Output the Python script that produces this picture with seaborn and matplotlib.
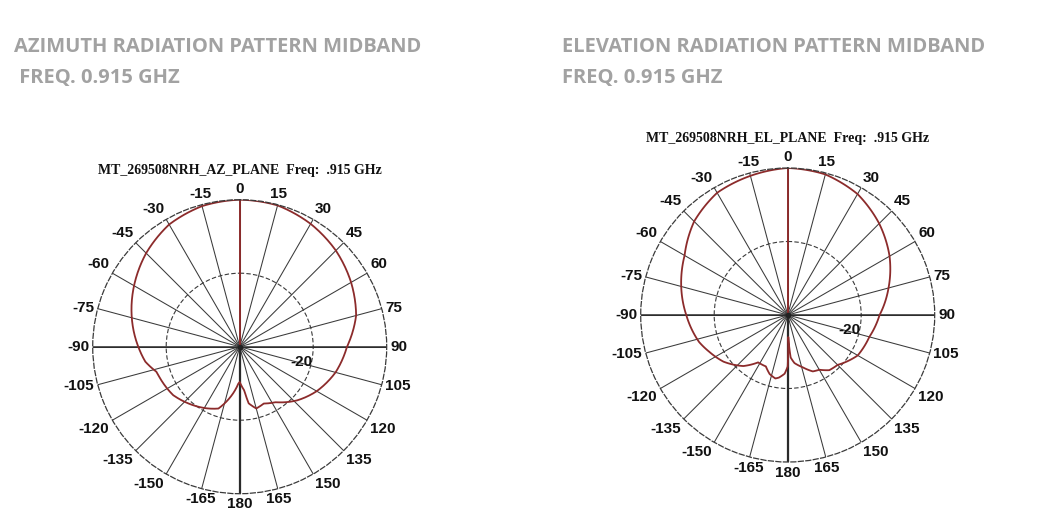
import numpy as np
import matplotlib
matplotlib.use("Agg")
import matplotlib.pyplot as plt
import seaborn as sns

# azimuth pattern, angle (deg, clockwise from 0) and gain (dB, 0 = max)
az_angles = [0, 15, 30, 45, 60, 75, 90, 105, 120, 133, 147, 157, 165, 171, 174, 178, 180,
             182, 188, 195, 199, 208, 222, 234, 253, 261, 270, 285, 300, 315, 330, 345, 360]
az_gain = [0, -0.2, -1.4, -3.0, -5.0, -7.2, -10.8, -13.0, -15.8, -18.6, -22.0, -23.2, -22.6,
           -24.4, -28.0, -29.6, -30.4, -30.0, -27.2, -24.0, -22.2, -21.0, -19.2, -17.6, -16.4,
           -14.0, -12.4, -9.6, -6.8, -4.0, -1.6, -0.4, 0]

# elevation pattern
el_angles = [0, 15, 30, 45, 60, 75, 90, 105, 120, 135, 143, 150, 156, 164, 172, 176, 178.5,
             180, 183, 188, 191, 197, 203, 212, 221, 234, 245, 253, 270, 285, 300, 315, 330, 345, 360]
el_gain = [0, -0.4, -2.0, -4.8, -8.0, -11.6, -15.0, -17.0, -18.0, -20.8, -21.2, -22.8, -23.2,
           -25.2, -26.8, -28.4, -34.0, -26.0, -24.0, -22.8, -22.4, -23.2, -24.8, -24.8, -21.6,
           -18.4, -16.4, -14.8, -12.4, -10.0, -7.6, -4.0, -1.6, -0.8, 0]

tick_angles = list(range(0, 360, 15))
tick_labels = ["0", "15", "30", "45", "60", "75", "90", "105", "120", "135", "150", "165",
               "180", "-165", "-150", "-135", "-120", "-105", "-90", "-75", "-60", "-45", "-30", "-15"]

headers = [("AZIMUTH RADIATION PATTERN MIDBAND", " FREQ. 0.915 GHZ"),
           ("ELEVATION RADIATION PATTERN MIDBAND", "FREQ. 0.915 GHZ")]
plot_titles = ["MT_269508NRH_AZ_PLANE  Freq:  .915 GHz",
               "MT_269508NRH_EL_PLANE  Freq:  .915 GHz"]

sns.set_theme(style="white")
plt.rcParams['font.family'] = ['Liberation Sans', 'DejaVu Sans']

curve_color = "#8c2b2b"
grid_color = "#3a3a3a"

fig = plt.figure(figsize=(10.39, 5.2), dpi=100)
W, H = 1039, 520
R = 147

def polar_panel(cx, cy, angles, gain, title):
    ax = fig.add_axes([(cx - R) / W, (H - cy - R) / H, 2 * R / W, 2 * R / H], projection='polar')
    ax.set_theta_zero_location('N')
    ax.set_theta_direction(-1)
    ax.set_ylim(-40, 0)
    ax.set_xticks(np.deg2rad(tick_angles))
    ax.set_xticklabels([])
    ax.set_yticks([-20])
    ax.set_yticklabels([])
    ax.xaxis.grid(True, color=grid_color, linestyle='-', linewidth=0.75)
    ax.yaxis.grid(True, color=grid_color, linestyle=(0, (4, 2)), linewidth=0.8)
    ax.spines['polar'].set_linestyle((0, (4, 2)))
    ax.spines['polar'].set_color(grid_color)
    ax.spines['polar'].set_linewidth(0.9)
    ax.tick_params(length=0)

    # main axes lines
    ax.plot([np.pi, np.pi], [-40, 0], color="#2a2a2a", lw=1.6)
    ax.plot([np.pi / 2, np.pi / 2], [-40, 0], color="#2a2a2a", lw=1.1)
    ax.plot([3 * np.pi / 2, 3 * np.pi / 2], [-40, 0], color="#2a2a2a", lw=1.1)
    ax.plot([0, 0], [-40, 0], color=curve_color, lw=1.4)

    sns.lineplot(x=np.deg2rad(angles), y=gain, ax=ax, sort=False, color=curve_color, lw=1.3)
    # join samples along the polar grid (arcs) rather than straight chords
    ax.lines[-1].get_path()._interpolation_steps = 30
    ax.set_xlabel('')
    ax.set_ylabel('')
    ax.plot([0], [-40], 'o', color="#222222", ms=3)

    for a, lab in zip(tick_angles, tick_labels):
        t = np.deg2rad(a)
        s, c = np.sin(t), np.cos(t)
        ha = 'left' if s > 0.3 else ('right' if s < -0.3 else 'center')
        va = 'bottom' if c > 0.3 else ('top' if c < -0.3 else 'center')
        ax.text(t, 1.0, lab, ha=ha, va=va, fontsize=11, fontweight='bold', color='#111111')

    ax.text(np.deg2rad(104), -22.8, "-20", ha='center', va='center', fontsize=11,
            fontweight='bold', color='#111111')
    ax.text(0.5, 1.10, title, transform=ax.transAxes, ha='center', va='center',
            fontsize=10, fontweight='bold', family=['Liberation Serif', 'DejaVu Serif'],
            color='#111111')
    return ax

polar_panel(239.7, 346.7, az_angles, az_gain, plot_titles[0])
polar_panel(787.7, 315.0, el_angles, el_gain, plot_titles[1])

for x0, (l1, l2) in zip([14, 562], headers):
    fig.text(x0 / W, 1 - 47 / H, l1, ha='left', va='center', fontsize=14.5, fontweight='bold',
             family=['Open Sans', 'DejaVu Sans'], color='#a2a2a2')
    fig.text(x0 / W, 1 - 78 / H, l2, ha='left', va='center', fontsize=14.5, fontweight='bold',
             family=['Open Sans', 'DejaVu Sans'], color='#a2a2a2')

fig.savefig("out.png", dpi=100, facecolor='white')
